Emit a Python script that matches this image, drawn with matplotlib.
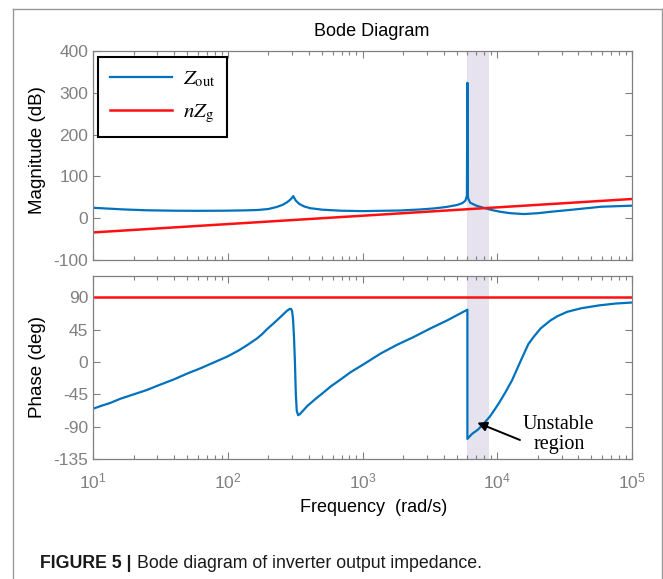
import numpy as np
import matplotlib
matplotlib.use( 'Agg' )
import matplotlib.pyplot as plt
from matplotlib.lines import Line2D
from matplotlib.ticker import LogLocator, NullFormatter, FixedLocator

plt.rcParams['font.family'] = ['Liberation Sans', 'DejaVu Sans']
plt.rcParams['mathtext.fontset'] = 'stix'
plt.rcParams['axes.unicode_minus'] = False

# magnitude of Zout (rad/s, dB)
mag_freq = [10, 13, 17, 25, 40, 60, 93, 130, 165, 200, 231, 255, 275, 290, 300, 306,
            312, 320, 340, 370, 410, 500, 690, 1000, 1900, 2700, 3400, 4200, 5000,
            5500, 5800, 5950, 6000, 6050, 6100, 6300, 7000, 7900, 9000, 10500,
            12500, 15800, 20000, 25000, 35000, 59000, 100000]
mag_zout = [25, 23, 21, 19, 18, 17.7, 18, 18.7, 19.6, 22, 27, 32, 38, 44, 49, 53,
            48, 42, 34, 28, 24, 20.5, 18, 17, 18.5, 21, 23.5, 27, 31.5,
            36, 42, 54, 324, 54, 46, 37, 30, 25, 20, 15.5,
            12, 10, 12, 15.5, 20, 27.5, 30]

# magnitude of nZg (inductive, 20 dB/dec)
zg_freq = [10, 100, 1000, 10000, 100000]
mag_zg = [-34, -14, 6, 26, 46]

# phase of Zout (rad/s, deg)
ph_freq = [10, 11.5, 13.4, 16, 20, 25, 30, 40, 50, 63, 80, 100, 120, 139, 165, 180,
           196, 225, 253, 275, 288, 295, 300, 305, 310, 315, 320, 325, 333, 345,
           390, 450, 516, 580, 690, 817, 1000, 1365, 1800, 2400, 3200, 4240, 5100,
           6000, 6000, 6500, 7200, 8000, 8800, 9500, 10300, 11500, 12900, 14300,
           15800, 17000, 18600, 21000, 24800, 28000, 33000, 42000, 57000, 75000, 100000]
ph_zout = [-65, -61, -57, -51, -45, -39, -33, -24, -16, -8.5, 0, 8, 16, 23.5, 33, 39,
           46, 56, 65, 71.5, 74, 74, 71, 60, 35, 0, -45, -68, -74, -72,
           -61, -51, -42, -34, -24, -14, -4, 12, 24, 35, 47, 58, 66,
           73, -107, -100, -94, -85, -76, -67, -57, -42, -25, -6,
           12, 25, 35, 47, 58, 64, 70, 75, 79, 81.5, 83]
ph_zg = [90, 90, 90, 90, 90]

band = [6000, 8700]   # unstable region

mag_ticks = [-100, 0, 100, 200, 300, 400]
ph_ticks = [-135, -90, -45, 0, 45, 90]
freq_ticks = [1e1, 1e2, 1e3, 1e4, 1e5]
freq_labels = [r'$\mathregular{10^{%d}}$' % k for k in range(1, 6)]

BLUE = '#0072BD'
RED = '#FF1010'
GRAY = '#808080'
BAND = '#E6E2EE'


def style_axes( ax ):
    ax.set_xscale( 'log' )
    ax.set_xlim( 10, 1e5 )
    ax.xaxis.set_major_locator( FixedLocator( freq_ticks ) )
    ax.xaxis.set_minor_locator( LogLocator( base=10, subs=np.arange( 2, 10 ) ) )
    ax.xaxis.set_minor_formatter( NullFormatter() )
    ax.tick_params( which='both', direction='in', top=True, right=True,
                    colors=GRAY, labelsize=12.5, width=0.8 )
    ax.tick_params( which='major', length=5 )
    ax.tick_params( which='minor', length=3 )
    for s in ax.spines.values():
        s.set_color( GRAY )
        s.set_linewidth( 0.9 )
    ax.axvspan( band[0], band[1], color=BAND, zorder=0, lw=0 )


def main():
    fig = plt.figure( figsize=(6.63, 5.79), dpi=100 )

    ax1 = fig.add_axes( [0.1403, 0.5509, 0.8130, 0.3610] )
    ax2 = fig.add_axes( [0.1403, 0.2073, 0.8130, 0.3161] )

    # magnitude
    style_axes( ax1 )
    ax1.plot( mag_freq, mag_zout, color=BLUE, lw=1.6, label=r'$Z_{\rm out}$' )
    ax1.plot( zg_freq, mag_zg, color=RED, lw=1.8, label=r'$nZ_{\rm g}$' )
    ax1.set_ylim( -100, 400 )
    ax1.set_yticks( mag_ticks )
    ax1.set_xticklabels( [] )
    leg = ax1.legend( loc='upper left', bbox_to_anchor=(0.009, 0.972), fontsize=15,
                      handlelength=3.0, handletextpad=0.5, labelspacing=0.65,
                      borderpad=0.58, borderaxespad=0, fancybox=False, framealpha=1,
                      edgecolor='k' )
    leg.get_frame().set_linewidth( 1.5 )

    # phase
    style_axes( ax2 )
    ax2.plot( ph_freq, ph_zout, color=BLUE, lw=1.6 )
    ax2.plot( zg_freq, ph_zg, color=RED, lw=1.8 )
    ax2.set_ylim( -135, 120 )
    ax2.set_yticks( ph_ticks )
    ax2.set_xticklabels( freq_labels )
    ax2.tick_params( axis='x', which='major', pad=9 )

    ax2.annotate( '', xy=(6800, -83), xytext=(15400, -110),
                  arrowprops=dict( arrowstyle='-|>', color='k', lw=1.4, mutation_scale=14 ) )
    ax2.text( 28600, -101, 'Unstable\nregion', ha='center', va='center',
              family='Liberation Serif', fontsize=14.5, linespacing=1.1 )

    # labels
    fig.text( 372 / 663, 1 - 32 / 579, 'Bode Diagram', ha='center', va='center', fontsize=13 )
    fig.text( 38 / 663, 1 - 150 / 579, 'Magnitude (dB)', ha='center', va='center',
              rotation=90, fontsize=13.5 )
    fig.text( 38 / 663, 1 - 367 / 579, 'Phase (deg)', ha='center', va='center',
              rotation=90, fontsize=13.5 )
    fig.text( 374 / 663, 1 - 508 / 579, 'Frequency  (rad/s)', ha='center', va='center',
              fontsize=13 )

    # caption
    cap = fig.text( 40 / 663, 1 - 563 / 579, 'FIGURE 5 |', ha='left', va='center',
                    fontsize=12.8, fontweight='bold', color='#1a1a1a' )
    fig.canvas.draw()
    bb = cap.get_window_extent().transformed( fig.transFigure.inverted() )
    fig.text( bb.x1 + 0.009, 1 - 563 / 579, 'Bode diagram of inverter output impedance.',
              ha='left', va='center', fontsize=12.8, color='#1a1a1a' )

    # outer frame
    fx0, fx1, fy1 = 13 / 663, 661.5 / 663, 1 - 9 / 579
    for xs, ys in [([fx0, fx0], [0, fy1]), ([fx0, fx1], [fy1, fy1]), ([fx1, fx1], [fy1, 0])]:
        fig.add_artist( Line2D( xs, ys, color='#999999', lw=1.0, transform=fig.transFigure ) )

    fig.savefig( 'out.png', dpi=100 )


if __name__ == '__main__':
    main()
